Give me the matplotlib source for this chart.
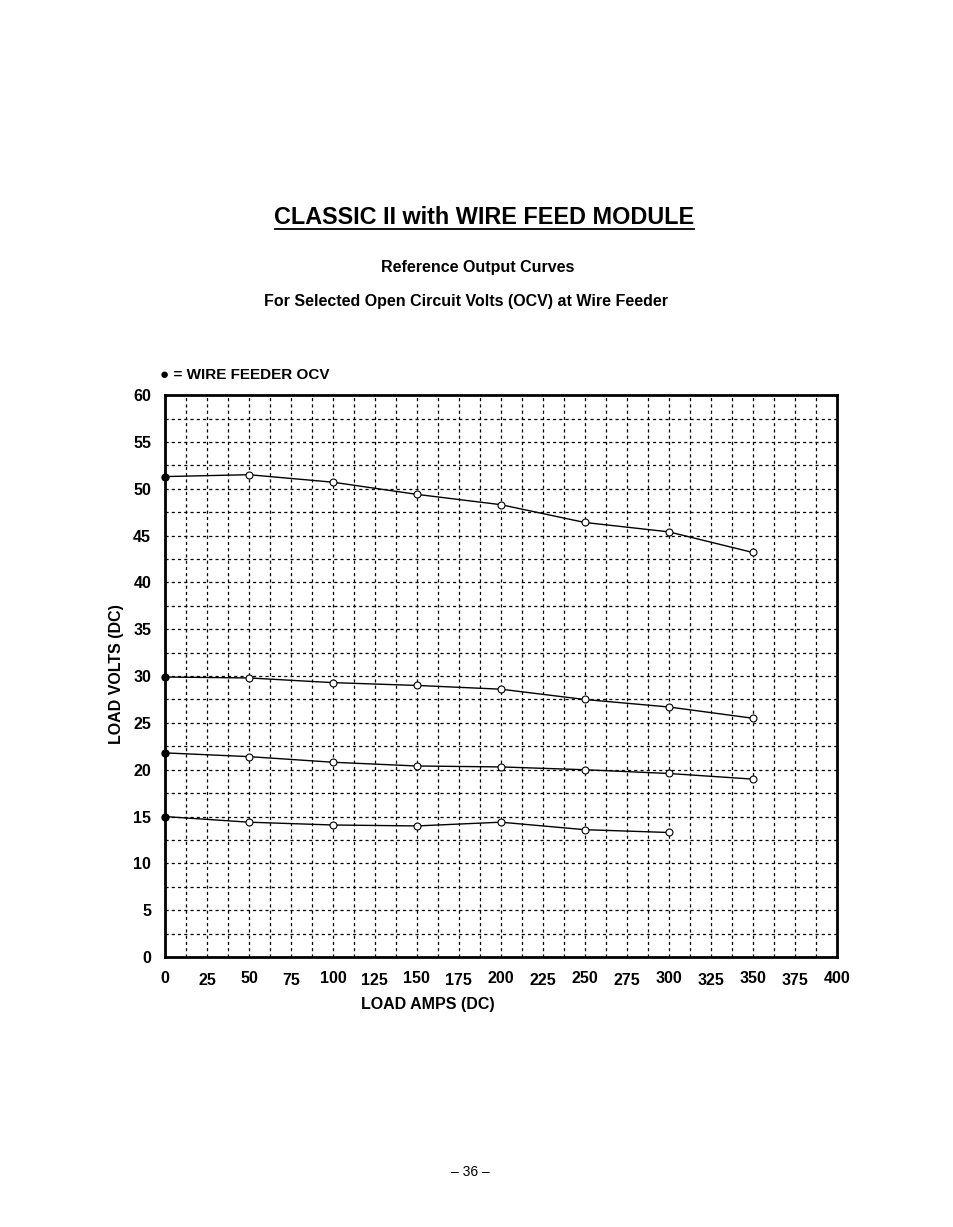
import matplotlib
matplotlib.use("Agg")
import matplotlib.pyplot as plt
import numpy as np

amps = [0, 50, 100, 150, 200, 250, 300, 350]
curve_51 = [51.3, 51.5, 50.7, 49.4, 48.3, 46.4, 45.4, 43.2]
curve_30 = [29.9, 29.8, 29.3, 29.0, 28.6, 27.5, 26.7, 25.5]
curve_22 = [21.8, 21.4, 20.8, 20.4, 20.3, 20.0, 19.6, 19.0]
curve_15 = [15.0, 14.4, 14.1, 14.0, 14.4, 13.6, 13.3]
x_ticks = list(range(0, 401, 25))
y_ticks = list(range(0, 61, 5))

plt.rcParams['font.family'] = 'Liberation Sans'
fig = plt.figure(figsize=(9.54, 12.27), dpi=100)
ax = fig.add_axes([0.173, 0.22, 0.704, 0.458])
ax.set_xlim(0, 400); ax.set_ylim(0, 60)
for v in np.arange(12.5, 400, 12.5):
    ax.axvline(v, color='black', lw=0.9, ls=(0, (2.5, 2.5)), zorder=1)
for v in np.arange(2.5, 60, 2.5):
    ax.axhline(v, color='black', lw=0.9, ls=(0, (2.5, 2.5)), zorder=1)
for ys in [curve_51, curve_30, curve_22, curve_15]:
    xs = amps[:len(ys)]
    ax.plot(xs, ys, color='black', lw=1.0, zorder=3)
    ax.plot(xs[1:], ys[1:], 'o', mfc='white', mec='black', ms=5, mew=0.8, zorder=4)
    ax.plot(xs[0], ys[0], 'o', color='black', ms=5, zorder=5, clip_on=False)
for s in ax.spines.values():
    s.set_linewidth(2)
ax.set_xticks(x_ticks); ax.set_yticks(y_ticks)
ax.tick_params(length=0, labelsize=11.5, pad=10)
for lbl in ax.get_xticklabels() + ax.get_yticklabels():
    lbl.set_fontweight('bold')
for i, lbl in enumerate(ax.get_xticklabels()):
    if i % 2 == 1:
        lbl.set_y(-0.004)
fig.text(0.448, 0.181, 'LOAD AMPS (DC)', ha='center', va='center', fontsize=11.5, fontweight='bold')
fig.text(0.122, 0.451, 'LOAD VOLTS (DC)', ha='center', va='center', rotation=90, fontsize=11.5, fontweight='bold')

fig.text(0.507, 0.823, 'CLASSIC II with WIRE FEED MODULE', ha='center', fontsize=16.8, fontweight='bold', va='center')
fig.add_artist(plt.Line2D([0.288, 0.727], [0.8135, 0.8135], color='black', lw=1.3))
fig.text(0.501, 0.782, 'Reference Output Curves', ha='center', fontsize=11.5, fontweight='bold', va='center')
fig.text(0.488, 0.754, 'For Selected Open Circuit Volts (OCV) at Wire Feeder', ha='center', fontsize=11.5, fontweight='bold', va='center')
fig.text(0.168, 0.694, '\u25cf = WIRE FEEDER OCV', fontsize=11, fontweight='bold', va='center')
fig.text(0.493, 0.045, '\u2013 36 \u2013', ha='center', fontsize=10, va='center')
fig.savefig('out.png', dpi=100)
